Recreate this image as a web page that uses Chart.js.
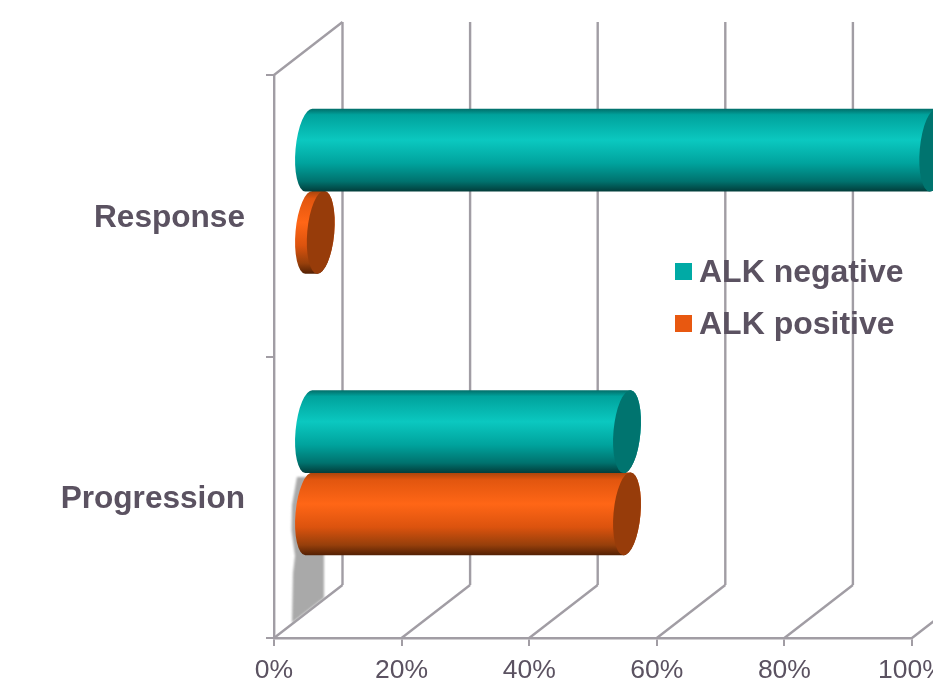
<!DOCTYPE html>
<html>
<head>
<meta charset="utf-8">
<title>ALK response</title>
<script src="https://cdn.jsdelivr.net/npm/chart.js@4"></script>
<style>
  html, body { margin: 0; padding: 0; background: #fff; overflow: hidden; width: 933px; height: 682px; }
  canvas { display: block; }
</style>
</head>
<body>
<canvas id="myChart" width="1010" height="720"></canvas>
<script>
var categories = ['Response', 'Progression'];
var alkNegative = [98, 50];
var alkPositive = [2, 50];
var xTicks = [0, 20, 40, 60, 80, 100];

var textColor = '#5b5261';
var lineColor = '#a19da4';

// depth of the 3d box, floor goes up and to the right
var depthX = 68.5;
var depthY = 53;
// cylinders sit in the middle of that depth
var barShiftX = 34;
var barShiftY = 24.5;

var tealStyle = {
  cap: '#00746f',
  stops: [[0, '#02706b'], [0.07, '#00a29c'], [0.38, '#0bc8c0'], [0.66, '#00a39d'], [0.88, '#00726e'], [1, '#023e3c']]
};
var orangeStyle = {
  cap: '#973c0a',
  stops: [[0, '#a8440c'], [0.09, '#e2560f'], [0.38, '#ff6616'], [0.66, '#dc530e'], [0.88, '#963f0b'], [1, '#552104']]
};

function line(ctx, x1, y1, x2, y2) {
  ctx.beginPath();
  ctx.moveTo(x1, y1);
  ctx.lineTo(x2, y2);
  ctx.stroke();
}

// back wall and floor lines
var boxPlugin = {
  id: 'box',
  beforeDatasetsDraw: function (chart) {
    var ctx = chart.ctx;
    var area = chart.chartArea;
    var x = chart.scales.x;
    ctx.save();
    ctx.strokeStyle = lineColor;
    ctx.lineWidth = 2.4;
    xTicks.forEach(function (t) {
      var px = x.getPixelForValue(t);
      line(ctx, px, area.bottom, px + depthX, area.bottom - depthY);
      line(ctx, px + depthX, area.bottom - depthY, px + depthX, area.top - depthY);
    });
    var left = x.getPixelForValue(0);
    line(ctx, left, area.top, left + depthX, area.top - depthY);

    // soft shadow under the lower bar
    ctx.filter = 'blur(1.2px)';
    ctx.fillStyle = '#a9a9a9';
    ctx.beginPath();
    ctx.moveTo(292, 623);
    ctx.lineTo(293, 573);
    ctx.lineTo(295, 556);
    ctx.lineTo(291.5, 530);
    ctx.lineTo(292, 505);
    ctx.lineTo(297, 477);
    ctx.lineTo(324, 477);
    ctx.lineTo(324, 598);
    ctx.closePath();
    ctx.fill();
    ctx.restore();
  }
};

// bars are replaced by cylinders, sized from the bar elements
function drawCylinder(ctx, bar, style) {
  var props = bar.getProps(['x', 'y', 'base', 'height']);
  var rx = 13.5;
  var ry = props.height / 2 + 0.5;
  var tilt = 0.09;
  var cy = props.y - barShiftY;
  var x0 = props.base + barShiftX;
  var x1 = props.x + barShiftX;

  var grad = ctx.createLinearGradient(0, cy - props.height / 2, 0, cy + props.height / 2);
  style.stops.forEach(function (s) { grad.addColorStop(s[0], s[1]); });

  ctx.fillStyle = grad;
  ctx.beginPath();
  ctx.ellipse(x0, cy, rx, ry, tilt, -Math.PI / 2, Math.PI / 2, true);
  ctx.ellipse(x1, cy, rx, ry, tilt, Math.PI / 2, -Math.PI / 2, true);
  ctx.closePath();
  ctx.fill();

  ctx.fillStyle = style.cap;
  ctx.beginPath();
  ctx.ellipse(x1, cy, rx, ry, tilt, 0, Math.PI * 2);
  ctx.fill();
}

var cylinderPlugin = {
  id: 'cylinder',
  beforeDatasetDraw: function (chart, args) {
    var ctx = chart.ctx;
    var style = args.index === 0 ? tealStyle : orangeStyle;
    ctx.save();
    args.meta.data.forEach(function (bar) { drawCylinder(ctx, bar, style); });
    ctx.restore();
    return false;
  }
};

var keyPlugin = {
  id: 'key',
  afterDraw: function (chart) {
    var ctx = chart.ctx;
    ctx.save();
    ctx.font = 'bold 32px "Liberation Sans"';
    ctx.textBaseline = 'alphabetic';
    chart.data.datasets.forEach(function (ds, i) {
      var y = 282 + i * 52;
      ctx.fillStyle = ds.backgroundColor;
      ctx.fillRect(675, y - 19, 17, 17);
      ctx.fillStyle = textColor;
      ctx.fillText(ds.label, 699, y);
    });
    ctx.restore();
  }
};

function alkChart() {
  var ctx = document.getElementById('myChart').getContext('2d');
  Chart.defaults.font.family = '"Liberation Sans"';
  var myChart = new Chart(ctx, {
    type: 'bar',
    data: {
      labels: categories,
      datasets: [{
        label: 'ALK negative',
        data: alkNegative,
        backgroundColor: '#00aaa5'
      }, {
        label: 'ALK positive',
        data: alkPositive,
        backgroundColor: '#e85810'
      }]
    },
    plugins: [boxPlugin, cylinderPlugin, keyPlugin],
    options: {
      indexAxis: 'y',
      responsive: false,
      animation: false,
      devicePixelRatio: 1,
      categoryPercentage: 0.584,
      barPercentage: 1,
      layout: { autoPadding: false, padding: { top: 75, right: 98, left: 0, bottom: 0 } },
      plugins: { legend: { display: false }, tooltip: { enabled: false } },
      scales: {
        x: {
          min: 0,
          max: 100,
          afterFit: function (scale) { scale.height = 82; },
          afterBuildTicks: function (scale) {
            scale.ticks = xTicks.map(function (t) { return { value: t }; });
          },
          grid: { drawOnChartArea: false, color: lineColor, lineWidth: 2, tickLength: 8 },
          border: { color: lineColor, width: 2.4 },
          ticks: {
            color: textColor,
            font: { size: 26.5 },
            padding: 9,
            maxRotation: 0,
            callback: function (v) { return v + '%'; }
          }
        },
        y: {
          afterFit: function (scale) { scale.width = 274; },
          grid: { drawOnChartArea: false, color: lineColor, lineWidth: 2, tickLength: 8 },
          border: { color: lineColor, width: 2.4 },
          ticks: {
            color: textColor,
            font: { size: 31.6, weight: 'bold' },
            padding: 21,
            labelOffset: 2.5
          }
        }
      }
    }
  });
  return myChart;
}

alkChart();
</script>
</body>
</html>
